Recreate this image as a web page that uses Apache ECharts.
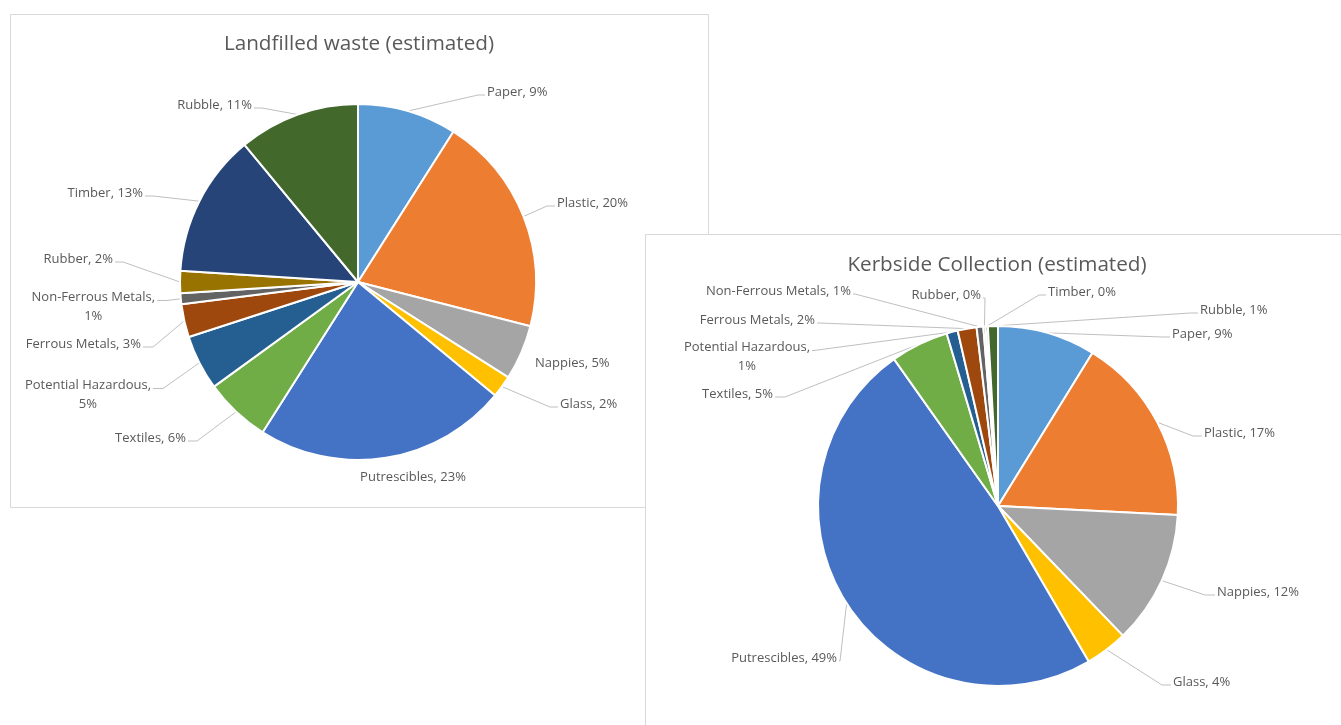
<!DOCTYPE html>
<html>
<head>
<meta charset="utf-8">
<script src="https://cdn.jsdelivr.net/npm/echarts@6/dist/echarts.min.js"></script>
<style>
html,body{margin:0;padding:0;background:#fff;}
#chart{width:1341px;height:725px;}
</style>
</head>
<body>
<div id="chart"></div>
<script>
// ---- data ----
const categories = ['Paper','Plastic','Nappies','Glass','Putrescibles','Textiles','Potential Hazardous','Ferrous Metals','Non-Ferrous Metals','Rubber','Timber','Rubble'];
const landfillValues = [9, 20, 5, 2, 23, 6, 5, 3, 1, 2, 13, 11];
const kerbsideValues = [8.8, 17.0, 12.0, 3.8, 48.6, 5.2, 1.0, 1.7, 0.6, 0.2, 0.2, 0.9];
const titles = ['Landfilled waste (estimated)','Kerbside Collection (estimated)'];
const wrapLandfill = ['Potential Hazardous','Non-Ferrous Metals'];
const wrapKerbside = ['Potential Hazardous'];

// ---- styles / layout ----
const colors = ['#5B9BD5','#ED7D31','#A5A5A5','#FFC000','#4472C4','#70AD47','#255E91','#9E480E','#636363','#997300','#264478','#43682B'];
const FONT = '"Open Sans", "Noto Sans", sans-serif';
const TXT = '#595959';
// label placement (Excel-style): [anchorX, anchorY, side, elbow, showLine]
// side 'R': text starts at anchor; 'L': text ends at anchor; 'C': text centred on anchor
const labelPlace1 = [
  [487, 92, 'R', 7, 1], [557, 203, 'R', 8, 1], [535, 363, 'R', 0, 0], [560, 404, 'R', 8, 1],
  [413, 477, 'C', 0, 0], [186, 438, 'L', 9, 1], [151, 395, 'L', 10, 1], [141, 344, 'L', 10, 1],
  [155, 307, 'L', 10, 1], [113, 259, 'L', 8, 1], [143, 193, 'L', 8, 1], [252, 105, 'L', 8, 1]
];
const labelPlace2 = [
  [1172, 334, 'R', 8, 1], [1204, 433, 'R', 9, 1], [1217, 592, 'R', 10, 1], [1173, 682, 'R', 9, 1],
  [837, 658, 'L', 1, 1], [773, 394, 'L', 10, 1], [810, 357, 'L', 2, 1], [815, 320, 'L', 2, 1],
  [851, 291, 'L', 2, 1], [981, 295, 'L', 2, 1], [1048, 292, 'R', 7, 1], [1200, 310, 'R', 8, 1]
];

function makeData(vals, place){
  return categories.map((c,i)=>({
    name:c, value:vals[i], itemStyle:{color:colors[i]},
    labelLine:{show: !!place[i][4]}
  }));
}
function fmt(wraps){
  return function(p){
    const pct = Math.round(p.percent) + '%';
    return wraps.indexOf(p.name) >= 0 ? p.name + ',\n' + pct : p.name + ', ' + pct;
  };
}
function layoutFn(place){
  return function(p){
    const s = place[p.dataIndex];
    const w = p.labelRect.width, h = p.labelRect.height;
    const multi = h > 25;
    let x, align;
    if (s[2] === 'R') { x = multi ? s[0] + w/2 : s[0]; align = multi ? 'center' : 'left'; }
    else if (s[2] === 'L') { x = multi ? s[0] - w/2 : s[0]; align = multi ? 'center' : 'right'; }
    else { x = s[0]; align = 'center'; }
    const res = {x:x, y:s[1], align:align, verticalAlign:'middle'};
    if (s[4] && p.labelLinePoints) {
      const lineY = (multi ? s[1] - h/2 + 9.5 : s[1]) + 3;
      const dir = s[2] === 'R' ? -1 : 1;
      res.labelLinePoints = [p.labelLinePoints[0], [s[0] + dir*(2 + s[3]), lineY], [s[0] + dir*2, lineY]];
    }
    return res;
  };
}
function pieSeries(vals, center, radius, wraps, place){
  return {
    type:'pie',
    center:center,
    radius:radius,
    startAngle:90,
    clockwise:true,
    avoidLabelOverlap:false,
    data:makeData(vals, place),
    itemStyle:{borderColor:'#fff', borderWidth:2},
    label:{show:true, position:'outside', formatter:fmt(wraps), color:TXT, fontFamily:FONT, fontSize:13, lineHeight:19},
    labelLine:{show:true, length:10, length2:10, lineStyle:{color:'#BFBFBF', width:1}},
    labelLayout:layoutFn(place),
    emphasis:{disabled:true},
    animation:false
  };
}

const chart = echarts.init(document.getElementById('chart'), null, {renderer:'canvas'});
chart.setOption({
  backgroundColor:'#fff',
  animation:false,
  title:[
    {text:titles[0], left:354, top:29, textAlign:'center', textStyle:{color:TXT, fontFamily:FONT, fontSize:20.7, fontWeight:'normal'}},
    {text:titles[1], left:992, top:250, textAlign:'center', textStyle:{color:TXT, fontFamily:FONT, fontSize:20.7, fontWeight:'normal'}}
  ],
  graphic:[
    {type:'rect', z:-20, shape:{x:10.5, y:14.5, width:698, height:493}, style:{fill:'#fff', stroke:'#D9D9D9', lineWidth:1}},
    {type:'rect', z:-10, shape:{x:645.5, y:234.5, width:720, height:520}, style:{fill:'#fff', stroke:'#D9D9D9', lineWidth:1}}
  ],
  series:[
    pieSeries(landfillValues, [358,282], 178, wrapLandfill, labelPlace1),
    pieSeries(kerbsideValues, [998,506], 180, wrapKerbside, labelPlace2)
  ]
});
</script>
</body>
</html>
